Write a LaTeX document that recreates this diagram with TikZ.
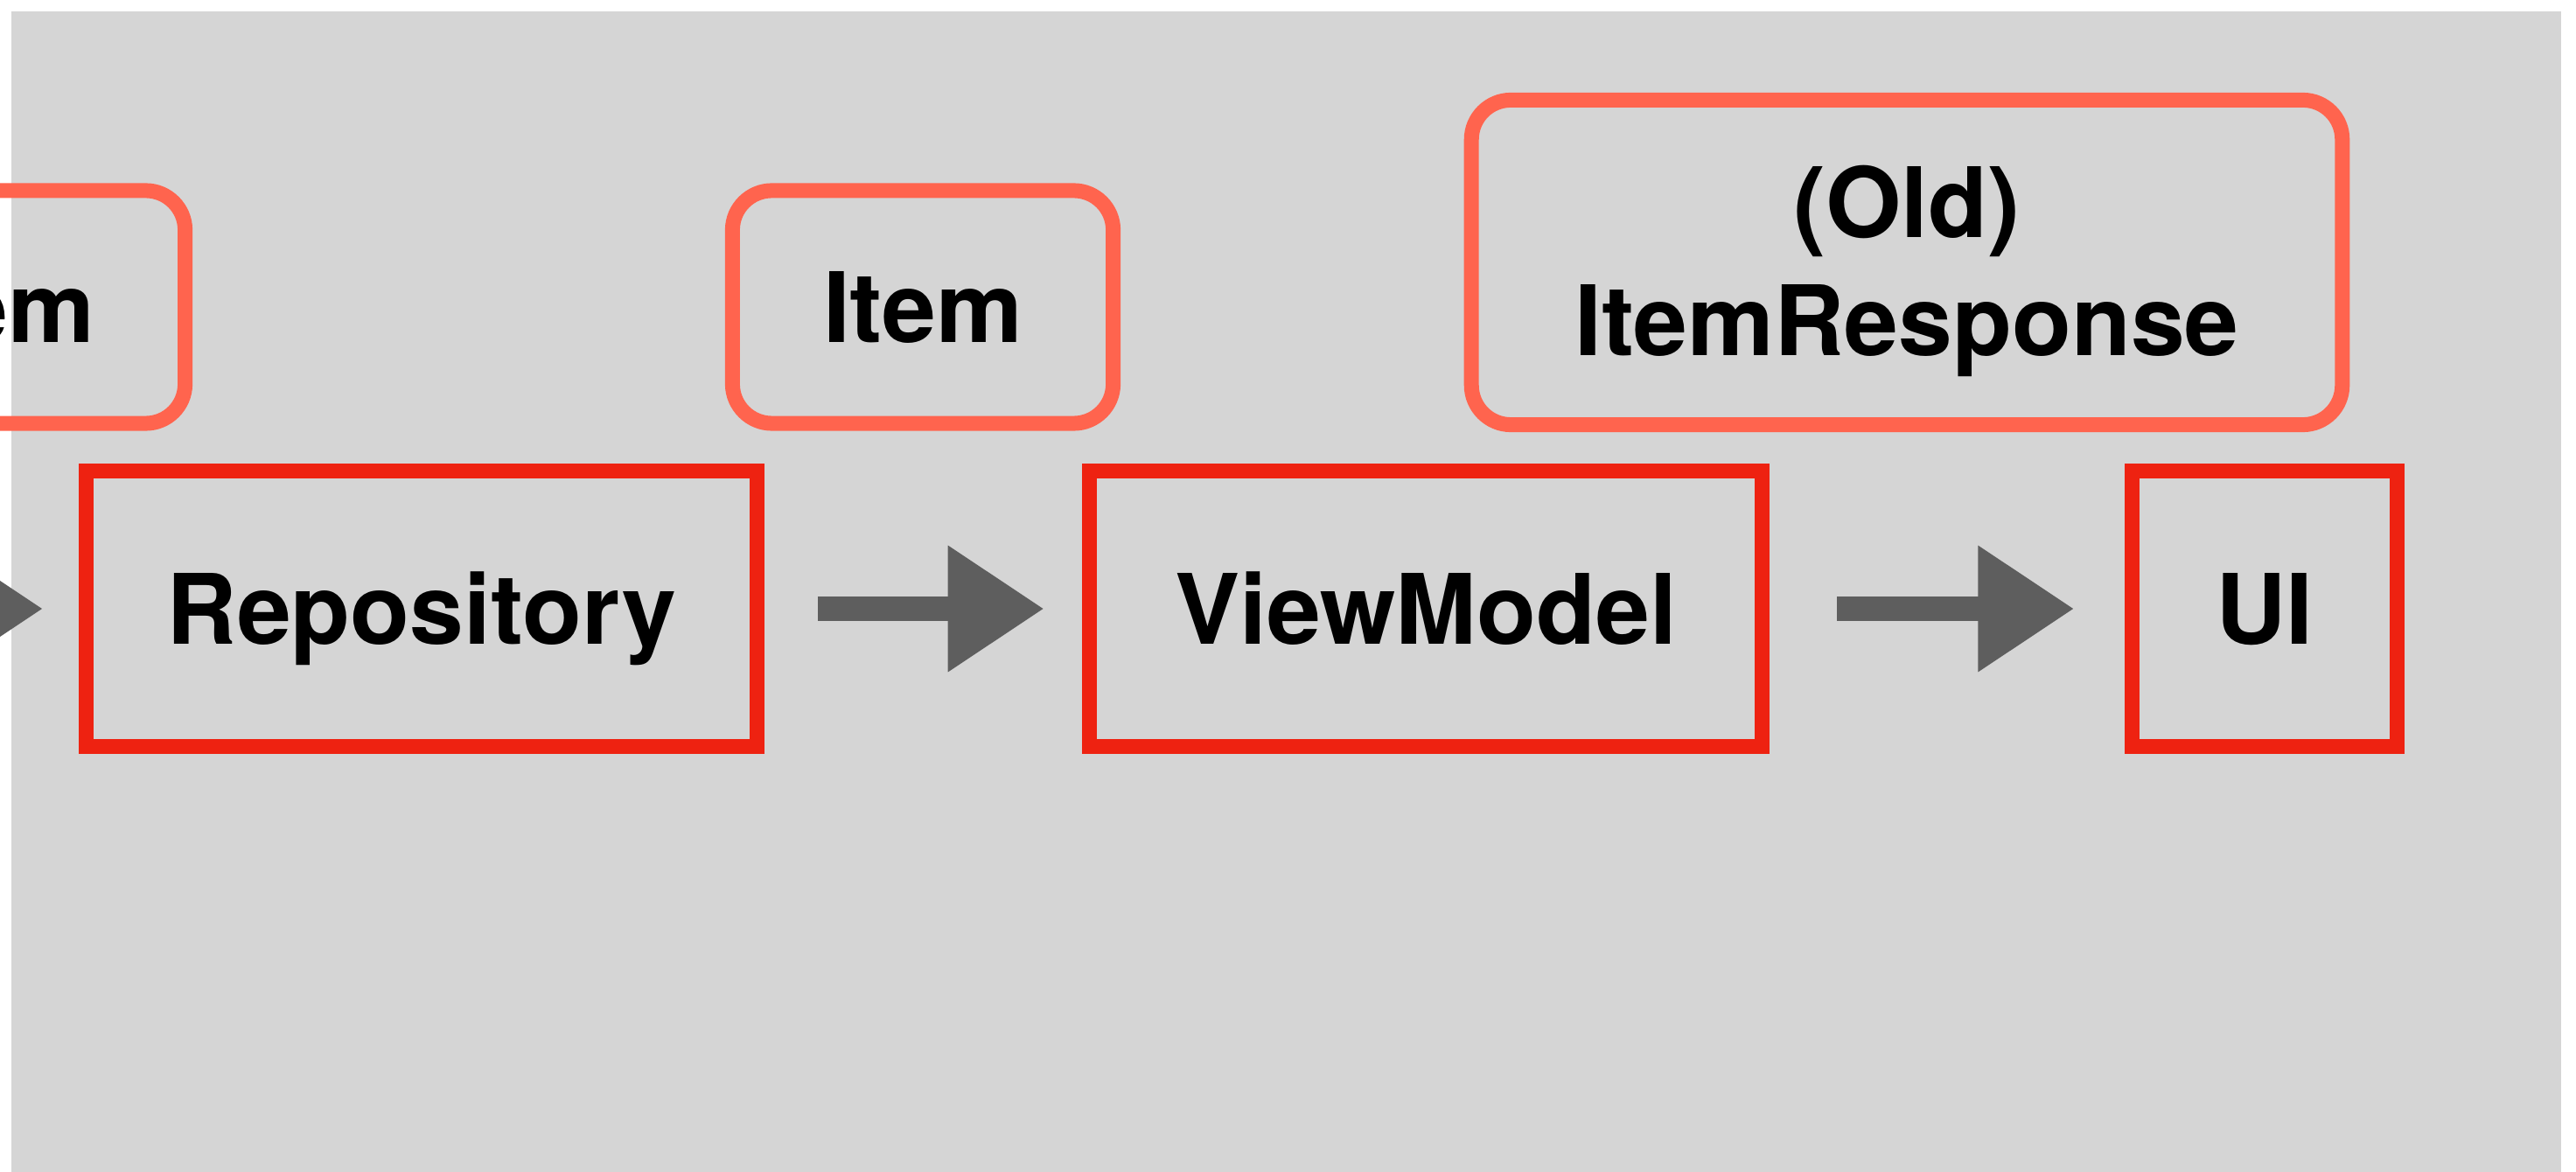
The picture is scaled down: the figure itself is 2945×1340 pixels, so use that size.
\documentclass[tikz,border=0pt]{standalone}
\usepackage{fontspec}
\setmainfont{TeX Gyre Heros}
\usetikzlibrary{arrows.meta,decorations.pathmorphing}
\definecolor{canvas}{HTML}{D5D5D5}
\definecolor{boxred}{HTML}{EE2211}
\definecolor{tagred}{HTML}{FF644E}
\definecolor{arrowgray}{HTML}{5E5E5E}
\begin{document}
\begin{tikzpicture}[x=0.01cm, y=-0.01cm,
  boxtext/.style={font=\fontsize{31.6pt}{38.4pt}\selectfont\bfseries, text=black,
    inner sep=0pt, text height=0.8cm, text depth=0pt},
  chalk/.style={postaction={draw=#1, line width=0.05cm, decorate,
    decoration={random steps, segment length=3pt, amplitude=0.35pt}}},
  stagebox/.style={boxtext, draw=boxred, line width=0.17cm, minimum height=3.14cm,
    line join=miter, chalk=boxred},
  typebox/.style={boxtext, draw=tagred, line width=0.17cm, rounded corners=0.45cm},
  flowarrow/.style={draw=arrowgray, line width=0.27cm,
    -{Triangle[length=1.1cm, width=1.37cm]}}
]
\useasboundingbox (0,0) rectangle (2945,1340);
\clip (0,0) rectangle (2945,1340);
\fill[canvas] (13,13) rectangle (2928,1340);

% data types carried between the stages
\node[typebox, minimum width=4.35cm, minimum height=2.66cm] (itemL) at (-6,351) {Item};
\node[typebox, minimum width=4.35cm, minimum height=2.66cm] (item) at (1055,351) {Item};
\node[typebox, minimum width=9.95cm, minimum height=3.71cm] (resp) at (2180,300) {};
\node[boxtext, anchor=base] (respA) at (2180,272) {(Old)};
\node[boxtext, anchor=base] (respB) at (2180,407) {ItemResponse};

% the stages
\node[stagebox, minimum width=7.66cm] (repo) at (482,696) {Repository};
\node[stagebox, minimum width=7.69cm] (vm) at (1630,696) {ViewModel};
\node[stagebox, minimum width=3.02cm] (ui) at (2589,696) {UI};

% flow between stages
\coordinate (src) at (-212,696);
\draw[flowarrow, shorten >=0.41cm] (src) -- (repo);
\draw[flowarrow, shorten <=0.61cm, shorten >=0.43cm] (repo) -- (vm);
\draw[flowarrow, shorten <=0.77cm, shorten >=0.58cm] (vm) -- (ui);
\end{tikzpicture}
\end{document}
